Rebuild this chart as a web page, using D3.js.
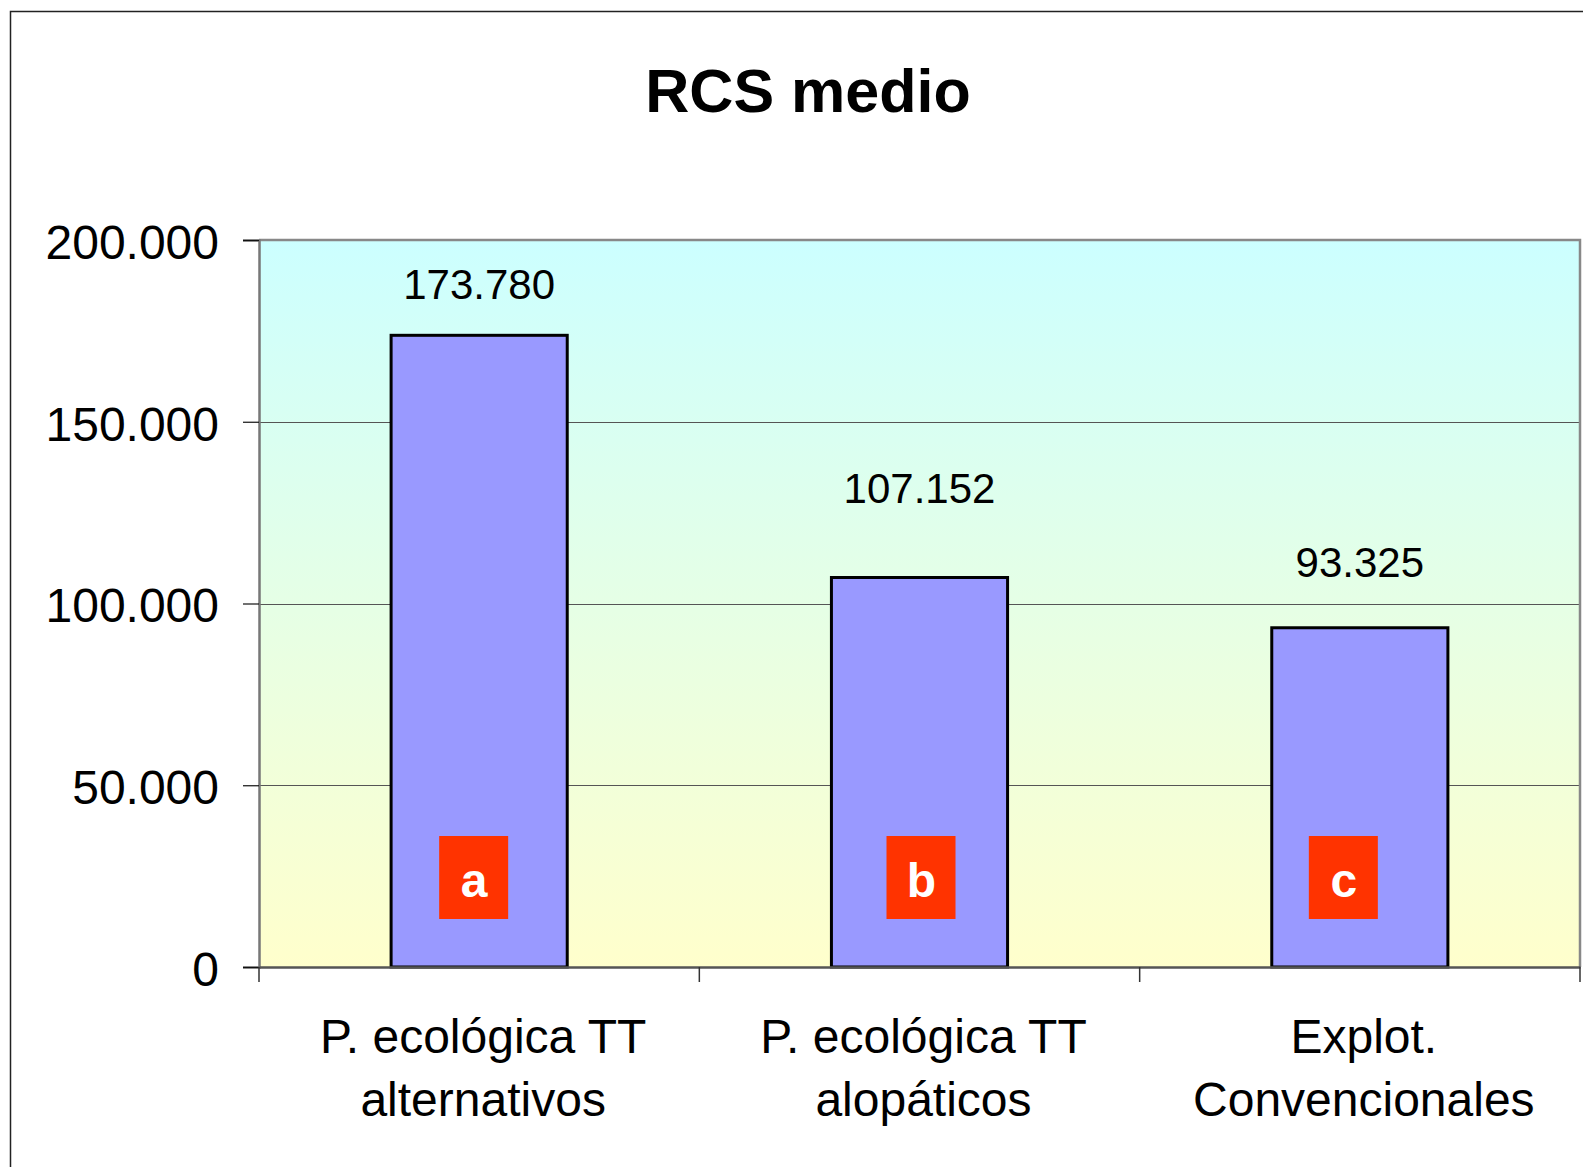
<!DOCTYPE html>
<html>
<head>
<meta charset="utf-8">
<script src="https://cdn.jsdelivr.net/npm/d3@7"></script>
<style>
  html, body { margin: 0; padding: 0; background: white; overflow: hidden; }
  svg { display: block; }
</style>
</head>
<body>
<div id="chart"></div>
<script>
var width = 1583;
var height = 1167;

// data
var categories = [["P. ecológica TT", "alternativos"], ["P. ecológica TT", "alopáticos"], ["Explot.", "Convencionales"]];
var values = [173780, 107152, 93325];
var valueLabels = ["173.780", "107.152", "93.325"];
var groups = ["a", "b", "c"];
var yTicks = [0, 50000, 100000, 150000, 200000];
var yTickLabels = ["0", "50.000", "100.000", "150.000", "200.000"];

// layout tweaks (hand placed in the original)
var labelLift = [36, 75, 51];
var badgeShift = [-5, 2, -16];

var font = "Liberation Sans, Arial, Helvetica, sans-serif";

var plotLeft = 259;
var plotRight = 1580;
var plotTop = 240;
var plotBottom = 967;

var svg = d3.select("#chart")
    .append("svg")
    .attr("width", width)
    .attr("height", height);

// outer frame
svg.append("rect")
    .attr("x", 10.5)
    .attr("y", 11.5)
    .attr("width", 1700)
    .attr("height", 1300)
    .attr("fill", "white")
    .attr("stroke", "#222")
    .attr("stroke-width", 1.5);

var defs = svg.append("defs");
var grad = defs.append("linearGradient")
    .attr("id", "bg")
    .attr("x1", 0).attr("y1", 0)
    .attr("x2", 0).attr("y2", 1);
grad.append("stop").attr("offset", "0%").attr("stop-color", "#ccffff");
grad.append("stop").attr("offset", "100%").attr("stop-color", "#ffffcc");

var x = d3.scaleBand()
    .domain(d3.range(categories.length))
    .range([plotLeft, plotRight])
    .padding(0);

var y = d3.scaleLinear()
    .domain([0, 200000])
    .range([plotBottom, plotTop]);

// plot background
svg.append("rect")
    .attr("x", plotLeft)
    .attr("y", plotTop)
    .attr("width", plotRight - plotLeft)
    .attr("height", plotBottom - plotTop)
    .attr("fill", "url(#bg)");

// gridlines
svg.append("g")
    .selectAll("line")
    .data(yTicks.slice(1, -1))
    .join("line")
    .attr("x1", plotLeft)
    .attr("x2", plotRight)
    .attr("y1", d => Math.round(y(d)) + 0.5)
    .attr("y2", d => Math.round(y(d)) + 0.5)
    .attr("stroke", "#555")
    .attr("stroke-width", 1);

// plot border (top / right)
svg.append("path")
    .attr("d", "M" + plotLeft + "," + plotTop + "H" + plotRight + "V" + plotBottom)
    .attr("fill", "none")
    .attr("stroke", "#888")
    .attr("stroke-width", 2.5);

// y axis
var yAxis = d3.axisLeft(y)
    .tickValues(yTicks)
    .tickFormat((d, i) => yTickLabels[i])
    .tickSize(16)
    .tickPadding(24);

var gy = svg.append("g")
    .attr("transform", "translate(" + plotLeft + ",0)")
    .call(yAxis);
gy.select(".domain").attr("stroke", "#777").attr("stroke-width", 2.5);
gy.selectAll(".tick line").attr("stroke", "#111").attr("stroke-width", 1.2);
gy.selectAll(".tick text")
    .attr("font-family", font)
    .attr("font-size", 48)
    .attr("dy", "0.38em")
    .attr("fill", "#000");

// bars
var barW = x.bandwidth() * 0.4;
svg.append("g")
    .selectAll("rect")
    .data(values)
    .join("rect")
    .attr("x", (d, i) => x(i) + x.bandwidth() / 2 - barW / 2)
    .attr("y", d => y(d))
    .attr("width", barW)
    .attr("height", d => y(0) - y(d))
    .attr("fill", "#9999ff")
    .attr("stroke", "#000")
    .attr("stroke-width", 3);

// x axis
var xAxis = d3.axisBottom(x)
    .tickSize(0)
    .tickFormat("");
var gx = svg.append("g")
    .attr("transform", "translate(0," + plotBottom + ")")
    .call(xAxis);
gx.select(".domain").attr("stroke", "#555").attr("stroke-width", 2.5);
gx.selectAll(".tick").remove();

// x ticks at category boundaries
var bounds = d3.range(categories.length).map(i => x(i)).concat([plotRight]);
svg.append("g")
    .selectAll("line")
    .data(bounds)
    .join("line")
    .attr("x1", d => d)
    .attr("x2", d => d)
    .attr("y1", plotBottom)
    .attr("y2", plotBottom + 15)
    .attr("stroke", "#333")
    .attr("stroke-width", 1.5);

// category labels
var catText = svg.append("g")
    .selectAll("text")
    .data(categories)
    .join("text")
    .attr("x", (d, i) => x(i) + x.bandwidth() / 2 + 4)
    .attr("y", 1053)
    .attr("text-anchor", "middle")
    .attr("font-family", font)
    .attr("font-size", 48)
    .attr("fill", "#000");
catText.selectAll("tspan")
    .data(d => d)
    .join("tspan")
    .attr("x", function() { return this.parentNode.getAttribute("x"); })
    .attr("dy", (d, i) => i === 0 ? 0 : 63)
    .text(d => d);

// value labels
svg.append("g")
    .selectAll("text")
    .data(values)
    .join("text")
    .attr("x", (d, i) => x(i) + x.bandwidth() / 2)
    .attr("y", (d, i) => y(d) - labelLift[i])
    .attr("text-anchor", "middle")
    .attr("font-family", font)
    .attr("font-size", 42)
    .attr("fill", "#000")
    .text((d, i) => valueLabels[i]);

// group badges
var badge = svg.append("g")
    .selectAll("g")
    .data(groups)
    .join("g")
    .attr("transform", (d, i) => "translate(" + (x(i) + x.bandwidth() / 2 + badgeShift[i]) + ",877)");
badge.append("rect")
    .attr("x", -35)
    .attr("y", -41)
    .attr("width", 69)
    .attr("height", 83)
    .attr("fill", "#ff3300");
badge.append("text")
    .attr("y", 20)
    .attr("text-anchor", "middle")
    .attr("font-family", font)
    .attr("font-weight", "bold")
    .attr("font-size", 48)
    .attr("fill", "#fff")
    .text(d => d);

// title
svg.append("text")
    .attr("x", 808)
    .attr("y", 112)
    .attr("text-anchor", "middle")
    .attr("font-family", font)
    .attr("font-weight", "bold")
    .attr("font-size", 61)
    .attr("fill", "#000")
    .text("RCS medio");
</script>
</body>
</html>
